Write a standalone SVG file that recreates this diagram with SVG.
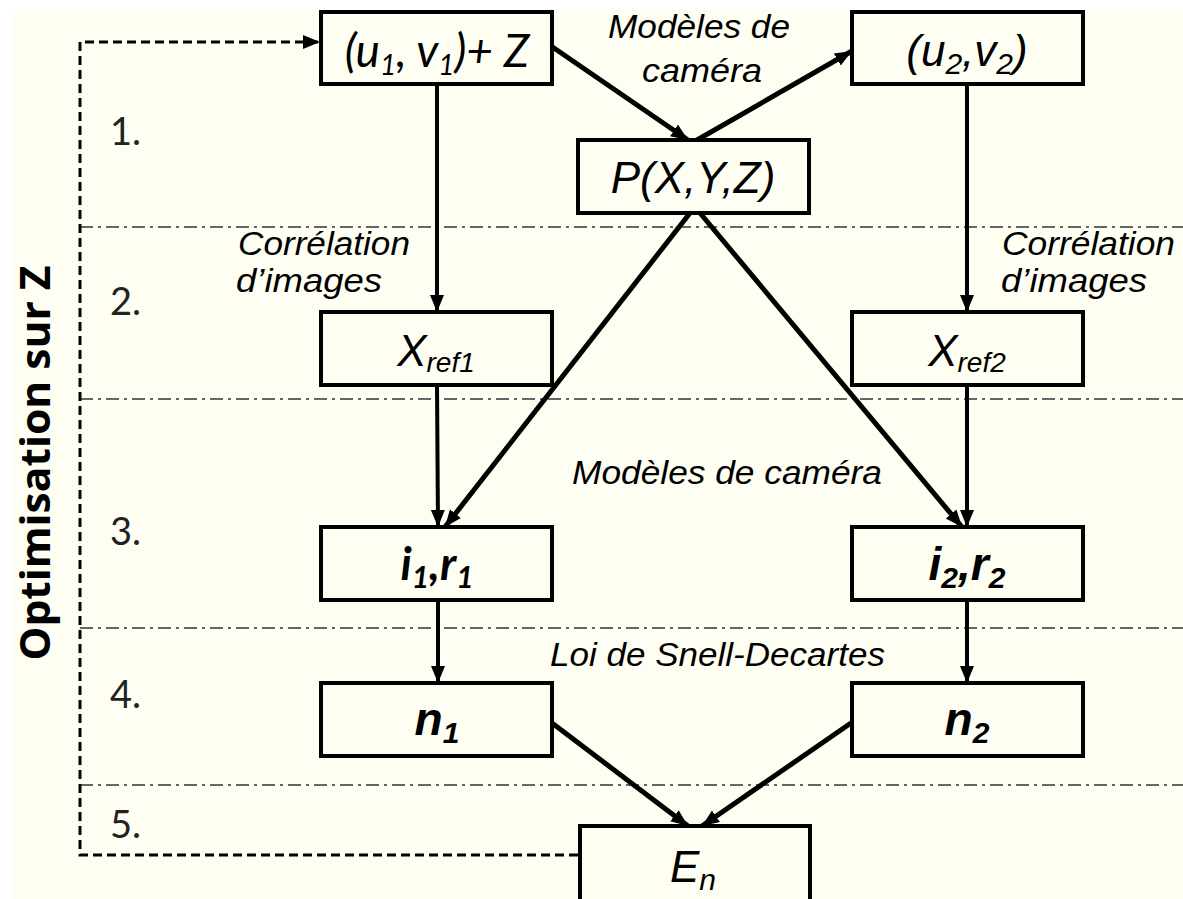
<svg xmlns="http://www.w3.org/2000/svg" width="1183" height="899" viewBox="0 0 1183 899">
<style>
.box{fill:none;stroke:#000;stroke-width:4}
.conn{stroke:#000;stroke-width:4;fill:none}
.diag{stroke:#000;stroke-width:5;fill:none}
.sep{stroke:#333;stroke-width:1.6;stroke-dasharray:13 5 3 5;fill:none}
.fb{stroke:#000;stroke-width:3;stroke-dasharray:9 5;fill:none}
.lbl{font-family:"Liberation Sans",Arial,sans-serif;font-style:italic;font-size:34px;fill:#000}
.num{font-family:Lato,"Liberation Sans",sans-serif;font-size:38px;fill:#222}
.ar{font-family:"Liberation Sans",Arial,sans-serif;font-style:italic;fill:#000}
.ca{font-family:Lato,"Liberation Sans",sans-serif;font-style:italic;fill:#000}
</style>
<defs>
<marker id="ah" markerUnits="userSpaceOnUse" markerWidth="18" markerHeight="16" refX="17" refY="8" orient="auto">
<path d="M0,1 L17,8 L0,15 z" fill="#000"/>
</marker>
</defs>
<rect x="13" y="10" width="1170" height="889" fill="#FEFEF2"/>

<g id="separators">
<line class="sep" x1="80" y1="227" x2="1183" y2="227"/>
<line class="sep" x1="80" y1="399" x2="1183" y2="399"/>
<line class="sep" x1="80" y1="628" x2="1183" y2="628"/>
<line class="sep" x1="80" y1="785" x2="1183" y2="785"/>
</g>

<g id="steps">
<text class="num" x="110" y="145">1.</text>
<text class="num" x="110" y="315">2.</text>
<text class="num" x="110" y="545">3.</text>
<text class="num" x="110" y="708">4.</text>
<text class="num" x="110" y="838">5.</text>
<text transform="translate(50,463) rotate(-90)" text-anchor="middle" font-family="'Open Sans','Liberation Sans',sans-serif" font-weight="bold" font-size="42" textLength="395" lengthAdjust="spacingAndGlyphs">Optimisation sur Z</text>
</g>

<g id="labels">
<text class="lbl" x="608" y="38" textLength="182" lengthAdjust="spacingAndGlyphs">Modèles de</text>
<text class="lbl" x="642" y="82" textLength="120" lengthAdjust="spacingAndGlyphs">caméra</text>
<text class="lbl" x="238" y="255" textLength="172" lengthAdjust="spacingAndGlyphs">Corrélation</text>
<text class="lbl" x="236" y="292" textLength="146" lengthAdjust="spacingAndGlyphs">d’images</text>
<text class="lbl" x="1002" y="255" textLength="173" lengthAdjust="spacingAndGlyphs">Corrélation</text>
<text class="lbl" x="1001" y="292" textLength="146" lengthAdjust="spacingAndGlyphs">d’images</text>
<text class="lbl" x="572" y="484" textLength="310" lengthAdjust="spacingAndGlyphs">Modèles de caméra</text>
<text class="lbl" x="550" y="666" textLength="335" lengthAdjust="spacingAndGlyphs">Loi de Snell-Decartes</text>
</g>

<g id="connectors">
<line class="conn" x1="437" y1="84" x2="437" y2="312" marker-end="url(#ah)"/>
<line class="diag" x1="551" y1="46" x2="688" y2="140" marker-end="url(#ah)"/>
<line class="diag" x1="697" y1="140" x2="852" y2="51" marker-end="url(#ah)"/>
<line class="conn" x1="967" y1="84" x2="967" y2="312" marker-end="url(#ah)"/>
<line class="conn" x1="437" y1="385" x2="438" y2="527" marker-end="url(#ah)"/>
<line class="diag" x1="690" y1="213" x2="445" y2="527" marker-end="url(#ah)"/>
<line class="diag" x1="700" y1="213" x2="962" y2="527" marker-end="url(#ah)"/>
<line class="conn" x1="967" y1="385" x2="967" y2="527" marker-end="url(#ah)"/>
<line class="conn" x1="438" y1="600" x2="438" y2="683" marker-end="url(#ah)"/>
<line class="conn" x1="967" y1="600" x2="967" y2="683" marker-end="url(#ah)"/>
<line class="diag" x1="552" y1="723" x2="688" y2="826" marker-end="url(#ah)"/>
<line class="diag" x1="851" y1="723" x2="702" y2="826" marker-end="url(#ah)"/>
<polyline class="fb" points="578,855 80,855 80,42 320,42" marker-end="url(#ah)"/>
</g>

<g id="n-u1v1">
<rect class="box" x="321" y="12" width="231" height="72"/>
<text class="ca" x="437" y="67" text-anchor="middle" font-size="46">(u<tspan font-size="28" dy="8">1</tspan><tspan dy="-8">, v</tspan><tspan font-size="28" dy="8">1</tspan><tspan dy="-8">)+ Z</tspan></text>
</g>
<g id="n-u2v2">
<rect class="box" x="852" y="12" width="231" height="72"/>
<text class="ar" x="967" y="66" text-anchor="middle" font-size="44">(u<tspan font-size="30" dy="8">2</tspan><tspan dy="-8">,v</tspan><tspan font-size="30" dy="8">2</tspan><tspan dy="-8">)</tspan></text>
</g>
<g id="n-P">
<rect class="box" x="578" y="140" width="231" height="73"/>
<text class="ar" x="693" y="193" text-anchor="middle" font-size="44">P(X,Y,Z)</text>
</g>
<g id="n-xref1">
<rect class="box" x="321" y="312" width="231" height="73"/>
<text class="ar" x="436" y="366" text-anchor="middle" font-size="44">X<tspan font-size="28" dy="6">ref1</tspan></text>
</g>
<g id="n-xref2">
<rect class="box" x="852" y="312" width="231" height="73"/>
<text class="ar" x="967" y="366" text-anchor="middle" font-size="44">X<tspan font-size="28" dy="6">ref2</tspan></text>
</g>
<g id="n-ir1">
<rect class="box" x="321" y="527" width="231" height="73"/>
<text class="ca" x="437" y="580" text-anchor="middle" font-size="46" font-weight="bold">i<tspan font-size="30" dy="8">1</tspan><tspan dy="-8">,r</tspan><tspan font-size="30" dy="8">1</tspan></text>
</g>
<g id="n-ir2">
<rect class="box" x="852" y="527" width="231" height="73"/>
<text class="ar" x="967" y="580" text-anchor="middle" font-size="46" font-weight="bold">i<tspan font-size="30" dy="8">2</tspan><tspan dy="-8">,r</tspan><tspan font-size="30" dy="8">2</tspan></text>
</g>
<g id="n-n1">
<rect class="box" x="321" y="683" width="231" height="73"/>
<text class="ar" x="437" y="735" text-anchor="middle" font-size="46" font-weight="bold">n<tspan font-size="30" dy="8">1</tspan></text>
</g>
<g id="n-n2">
<rect class="box" x="852" y="683" width="231" height="73"/>
<text class="ar" x="967" y="735" text-anchor="middle" font-size="46" font-weight="bold">n<tspan font-size="30" dy="8">2</tspan></text>
</g>
<g id="n-En">
<rect class="box" x="580" y="826" width="230" height="80"/>
<text class="ar" x="693" y="882" text-anchor="middle" font-size="44">E<tspan font-size="30" dy="8">n</tspan></text>
</g>
</svg>
